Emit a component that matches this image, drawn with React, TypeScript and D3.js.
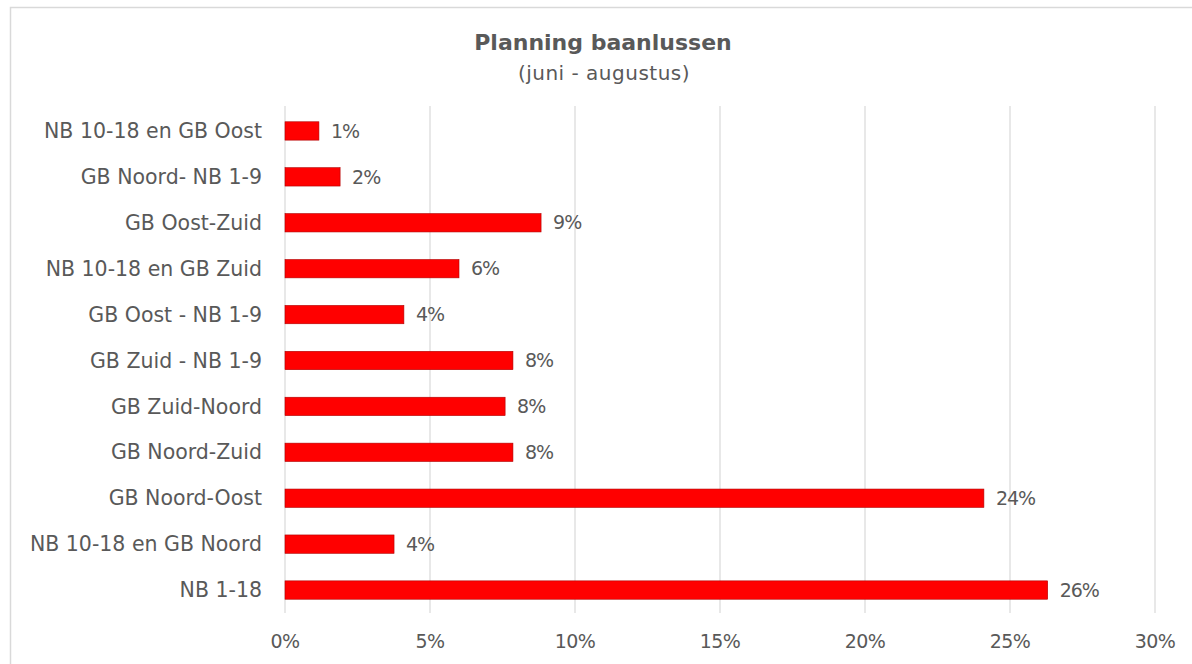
import React from "react";
import * as d3 from "d3";

const categories = [
  "NB 10-18 en GB Oost",
  "GB Noord- NB 1-9",
  "GB Oost-Zuid",
  "NB 10-18 en GB Zuid",
  "GB Oost - NB 1-9",
  "GB Zuid - NB 1-9",
  "GB Zuid-Noord",
  "GB Noord-Zuid",
  "GB Noord-Oost",
  "NB 10-18 en GB Noord",
  "NB 1-18",
];
const values = [0.0117, 0.019, 0.0883, 0.06, 0.041, 0.0786, 0.0759, 0.0786, 0.241, 0.0376, 0.263];
const ticks = [0, 0.05, 0.1, 0.15, 0.2, 0.25, 0.3];

const W = 1192;
const H = 664;
const FONT = "'DejaVu Sans', sans-serif";
const TXT = "#595959";

export default function App() {
  const x = d3.scaleLinear().domain([0, 0.3]).range([285, 1155]);
  const y = d3.scaleBand<string>().domain(categories).range([108, 613]).paddingInner(0.6).paddingOuter(0.3);
  const fmt = d3.format(".0%");
  return (
    <svg width={W} height={H} style={{ position: "absolute", left: 0, top: 0, background: "#fff" }} fontFamily={FONT}>
      <rect x={10.5} y={7.5} width={1200} height={700} fill="#fff" stroke="#d9d9d9" strokeWidth={1.5} />
      <text x={603} y={50} textAnchor="middle" fontSize={22} fontWeight="bold" fill={TXT}>Planning baanlussen</text>
      <text x={604} y={80} textAnchor="middle" fontSize={20} fill={TXT} letterSpacing={0.5}>(juni - augustus)</text>
      {ticks.map((t) => (
        <g key={t}>
          <line x1={x(t)} x2={x(t)} y1={106} y2={613} stroke="#d9d9d9" strokeWidth={1.2} />
          <text x={x(t)} y={648} textAnchor="middle" fontSize={19} letterSpacing={-0.5} fill={TXT}>{fmt(t)}</text>
        </g>
      ))}
      {categories.map((c, i) => {
        const yy = y(c)!;
        const bw = y.bandwidth();
        return (
          <g key={c}>
            <text x={262} y={yy + bw / 2} dy="0.35em" textAnchor="end" fontSize={20.5} fill={TXT}>{c}</text>
            <rect x={x(0)} y={yy} width={x(values[i]) - x(0)} height={bw} fill="#ff0000" stroke="#b00000" strokeWidth={0.6} />
            <text x={x(values[i]) + 12} y={yy + bw / 2} dy="0.35em" fontSize={19} letterSpacing={-1} fill={TXT}>{fmt(values[i])}</text>
          </g>
        );
      })}
    </svg>
  );
}
